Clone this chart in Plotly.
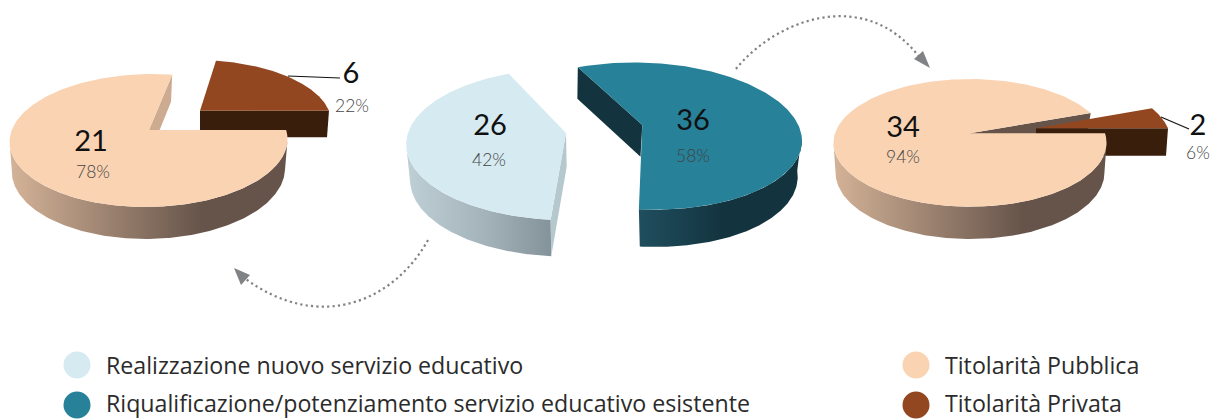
import numpy as np
import plotly.graph_objects as go

# ---- data ----
type_labels = ["Realizzazione nuovo servizio educativo",
               "Riqualificazione/potenziamento servizio educativo esistente"]
type_values = [26, 36]
owner_labels = ["Titolarità Pubblica", "Titolarità Privata"]
nuovo_owner_values = [34, 2]
riqual_owner_values = [21, 6]

# ---- colours ----
LIGHT, TEAL, PEACH, BROWN = "#D6EAF1", "#268199", "#FAD3B3", "#924721"
PEACH_SIDE = [[0, "#D2B196"], [0.72, "#66544A"], [1, "#66544A"]]
LIGHT_SIDE = [[0, "#BDCED4"], [0.55, "#A2B2B8"], [1, "#84929A"]]
TEAL_SIDE = [[0, "#1F4E5E"], [0.55, "#13343F"], [1, "#13343F"]]


def rim(p, a0, a1, n=200):
    t = np.radians(np.linspace(a0, a1, n))
    u, v = np.cos(t), -np.sin(t)
    d = 1 - p["k"] * v
    return p["cx"] + (p["A"] * u + p["S"] * v) / d, p["cy"] + p["B"] * v / d


def poly(fig, xs, ys, color=None, grad=None):
    kw = dict(fillcolor=color) if grad is None else dict(
        fillgradient=dict(type="horizontal", colorscale=grad[0], start=grad[1], stop=grad[2]))
    fig.add_trace(go.Scatter(x=list(xs) + [xs[0]], y=list(ys) + [ys[0]], mode="lines", fill="toself",
                             line=dict(width=0), hoverinfo="skip", showlegend=False, **kw))


def top(fig, p, a0, a1, color):
    x, y = rim(p, a0, a1)
    poly(fig, [p["cx"], *x], [p["cy"], *y], color)


def side(fig, t, b, a0, a1, grad=None, color=None):
    # the visible wall runs between the two silhouette points of each rim
    def lim(p):
        s = np.degrees(np.arcsin(p["k"]))
        return max(a0, 180 + s), min(a1, 360 - s)
    x1, y1 = rim(t, *lim(t))
    x2, y2 = rim(b, *lim(b))
    poly(fig, [*x1, *x2[::-1]], [*y1, *y2[::-1]], color, grad)


def radial(fig, t, b, a, color):
    x1, y1 = rim(t, a, a, 1)
    x2, y2 = rim(b, a, a, 1)
    poly(fig, [t["cx"], x1[0], x2[0], b["cx"]], [t["cy"], y1[0], y2[0], b["cy"]], color)


def P(cx, cy, A, B, k, S=0):
    return dict(cx=cx, cy=cy, A=A, B=B, k=k, S=S)


fig = go.Figure()

# ---- left pie (riqualificazione -> titolarità) ----
ang = 360 * riqual_owner_values[1] / sum(riqual_owner_values)
bt, bb = P(200, 110.7, 129, 58.7, .158, 4), P(200, 137.2, 127, 58, .16, 4)
radial(fig, bt, bb, 0, "#3A1E0C")
top(fig, bt, 0, ang, BROWN)
pt, pb = P(149, 130, 137.2, 64.84, .158, -3), P(149, 156.6, 134, 66.4, .194, -3)
radial(fig, pt, pb, ang, "#CDAB90")
side(fig, pt, pb, 172, 360, grad=(PEACH_SIDE, 14, 275))
top(fig, pt, ang, 360, PEACH)

# ---- middle pie ----
start = 114.3
ang = 360 * type_values[0] / sum(type_values)
lt, lb = P(566, 133, 158, 74, .15), P(566.7, 166.7, 154, 73.8, .18)
side(fig, lt, lb, 172, start + ang, grad=(LIGHT_SIDE, 410, 552))
radial(fig, lt, lb, start + ang, "#B5C8CE")
top(fig, lt, start, start + ang, LIGHT)
tt, tb = P(642.3, 125, 156, 72, .15, 10), P(640.5, 156.7, 152, 74, .18, 12)
side(fig, tt, tb, start + ang, 360, grad=(TEAL_SIDE, 640, 790))
radial(fig, tt, tb, start + 360, "#13343F")
top(fig, tt, start + ang, start + 360, TEAL)

# ---- right pie ----
ang = 360 * nuovo_owner_values[1] / sum(nuovo_owner_values)
pt, pb = P(970, 133.3, 135, 62.4, .15), P(970, 160, 132, 64, .19)
radial(fig, pt, pb, ang, "#66544A")
bt, bb = P(1036, 128.3, 132, 61.5, .15, 6), P(1036, 155.7, 130, 61, .16, 6)
radial(fig, bt, bb, 0, "#3A1E0C")
top(fig, bt, 0, ang, BROWN)
side(fig, pt, pb, 172, 360, grad=(PEACH_SIDE, 836, 1096))
top(fig, pt, ang, 360, PEACH)

# ---- text on pies ----
NUM = dict(family="Lato", size=29, color="#111111", weight=400)
PCT = dict(family="Lato", size=17.5, color="#444444", weight=300)


def label(fig, v, total, xn, yn, xp, yp):
    fig.add_trace(go.Scatter(x=[xn], y=[yn + 3], mode="text", text=[str(v)], textfont=NUM,
                             textposition="middle center", hoverinfo="skip", showlegend=False))
    fig.add_trace(go.Scatter(x=[xp], y=[yp + 3], mode="text", text=[f"{round(100 * v / total)}%"], textfont=PCT,
                             textposition="middle center", hoverinfo="skip", showlegend=False))


label(fig, riqual_owner_values[0], sum(riqual_owner_values), 91, 141, 93, 171)
label(fig, riqual_owner_values[1], sum(riqual_owner_values), 351, 73, 352, 105)
label(fig, type_values[0], sum(type_values), 490, 125, 489, 159)
label(fig, type_values[1], sum(type_values), 693, 120, 693, 155)
label(fig, nuovo_owner_values[0], sum(nuovo_owner_values), 903, 127, 903, 155.5)
label(fig, nuovo_owner_values[1], sum(nuovo_owner_values), 1198, 125, 1198, 152)

# ---- legends ----
LEG = dict(family="Open Sans", size=23.2, color="#2B2B2B")
for xm, xt, labels, cols in [(77, 107, type_labels, [LIGHT, TEAL]), (916, 946, owner_labels, [PEACH, BROWN])]:
    for lab, c, y, yt in zip(labels, cols, [365, 405], [365, 402.5]):
        fig.add_trace(go.Scatter(x=[xm], y=[y], mode="markers", hoverinfo="skip", showlegend=False,
                                 marker=dict(size=27, color=c, line=dict(width=0))))
        fig.add_annotation(x=xt, y=yt, text=lab, showarrow=False, xanchor="left", yanchor="middle",
                           xshift=-2, borderpad=0, font=LEG)

# ---- decorations ----
GREY = "#808285"
DOTS = "2.2px,3.2px"
shapes = [
    dict(type="path", path="M 736 69 C 775 20, 865 -15, 920 58",
         line=dict(color=GREY, width=2.2, dash=DOTS)),
    dict(type="path", path="M 930 68 L 914 59 L 923 51 Z", fillcolor=GREY, line=dict(width=0)),
    dict(type="path", path="M 428 240 C 395 300, 320 335, 243 277",
         line=dict(color=GREY, width=2.2, dash=DOTS)),
    dict(type="path", path="M 234 268 L 250 275 L 241 285 Z", fillcolor=GREY, line=dict(width=0)),
    dict(type="line", x0=288, y0=76, x1=340, y1=78, line=dict(color="#111111", width=1.2)),
    dict(type="line", x0=1161, y0=117, x1=1189, y1=129, line=dict(color="#111111", width=1.2)),
]

fig.update_layout(
    width=1210, height=419, autosize=False, margin=dict(l=0, r=0, t=0, b=0),
    paper_bgcolor="white", plot_bgcolor="white", showlegend=False, shapes=shapes,
    xaxis=dict(range=[0, 1210], visible=False, fixedrange=True),
    yaxis=dict(range=[419, 0], visible=False, fixedrange=True),
)
fig.write_html("out.html", config=dict(displayModeBar=False),
               post_script="document.body.style.margin='0';document.body.style.overflow='hidden';")
